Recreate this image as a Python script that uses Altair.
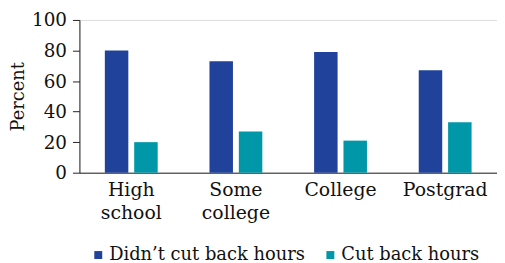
import altair as alt
import pandas as pd

categories = ["High school", "Some college", "College", "Postgrad"]
series = ["Didn\u2019t cut back hours", "Cut back hours"]
didnt_cut = [80, 73, 79, 67]
cut = [20, 27, 21, 33]
colors = ["#21429a", "#0097a8"]

rows = []
for c, a, b in zip(categories, didnt_cut, cut):
    rows.append({"cat": c, "series": series[0], "value": a})
    rows.append({"cat": c, "series": series[1], "value": b})
df = pd.DataFrame(rows)

FONT = "DejaVu Serif"

chart = alt.Chart(df).mark_bar().encode(
    x=alt.X("cat:N", sort=categories, title=None,
            scale=alt.Scale(paddingInner=0.495, paddingOuter=0.243),
            axis=alt.Axis(labelAngle=0, labelExpr="split(datum.label, ' ')",
                          labelLineHeight=23, ticks=False, labelPadding=8,
                          domainColor="#222", labelColor="#111",
                          labelFontSize=19, labelFont=FONT)),
    xOffset=alt.XOffset("series:N", sort=series,
                        scale=alt.Scale(paddingInner=0.2)),
    y=alt.Y("value:Q", title="Percent",
            scale=alt.Scale(domain=[0, 100]),
            axis=alt.Axis(values=[0, 20, 40, 60, 80, 100], grid=False,
                          tickSize=7, tickColor="#222", domainColor="#222",
                          labelColor="#111", labelFontSize=18.5, labelFont=FONT,
                          titleFont=FONT, titleFontSize=18, titleFontWeight="normal",
                          titleColor="#111", labelPadding=6, titlePadding=4)),
    color=alt.Color("series:N", sort=series,
                    scale=alt.Scale(domain=series, range=colors),
                    legend=alt.Legend(title=None, orient="none", direction="horizontal",
                                      legendX=10, legendY=228,
                                      symbolType="square", symbolSize=64,
                                      symbolStrokeWidth=0, labelLimit=400,
                                      labelFont=FONT, labelFontSize=18,
                                      labelColor="#111", columnPadding=16,
                                      labelOffset=2)),
).properties(
    width=421, height=154, padding={"left": 1, "top": 2, "right": 0, "bottom": 0}
).configure_view(stroke=None).configure(background="white", font=FONT).configure_legend(
    labelFont=FONT
)

chart.save("out.html", embed_options={"renderer": "svg", "actions": False})
